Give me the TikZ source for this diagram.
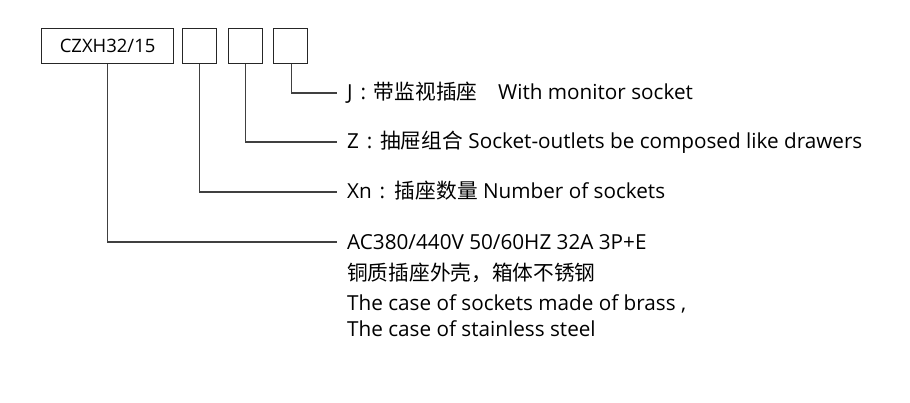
\documentclass[tikz,border=0pt]{standalone}
\usepackage{fontspec}
\setmainfont{Open Sans}
\newfontfamily\cjk{Noto Sans CJK SC}
\newcommand\colsep{\hspace{2.5pt}:\hspace{2.5pt} }
\begin{document}
\begin{tikzpicture}[x=1pt,y=-1pt,
  box/.style={draw=black!85,line width=1.2pt,inner sep=0pt,anchor=north west},
  lead/.style={draw=black!75,line width=1.2pt},
  lbl/.style={anchor=base west,inner sep=0pt,font=\fontsize{20.7}{24}\selectfont}]
\useasboundingbox[fill=white] (0,0) rectangle (910,403);
\node[box,minimum width=132pt,minimum height=35pt,font=\fontsize{18.5}{22}\selectfont] (b1) at (41,28) {CZXH32/15};
\node[box,minimum width=34pt,minimum height=35pt] (b2) at (182,28) {};
\node[box,minimum width=34pt,minimum height=35pt] (b3) at (228,28) {};
\node[box,minimum width=34pt,minimum height=35pt] (b4) at (273,28) {};
\coordinate (e1) at (337,242);
\coordinate (e2) at (337,192);
\coordinate (e3) at (337,142);
\coordinate (e4) at (337,93);
\draw[lead] (b1.south) |- (e1);
\draw[lead] (b2.south) |- (e2);
\draw[lead] (b3.south) |- (e3);
\draw[lead] ([xshift=1pt]b4.south) |- (e4);
\node[lbl] (t4) at (347,100) {J \colsep{\cjk 带监视插座}\quad With monitor socket};
\node[lbl] (t3) at (347,149) {Z \colsep{\cjk 抽屉组合} Socket-outlets be composed like drawers};
\node[lbl] (t2) at (347,199) {Xn \colsep{\cjk 插座数量} Number of sockets};
\node[lbl] (t1) at (347,250) {AC380/440V 50/60HZ 32A 3P+E};
\node[lbl] (t1b) at (347,280) {\cjk 铜质插座外壳，箱体不锈钢};
\node[lbl] (t1c) at (347,311) {The case of sockets made of brass ,};
\node[lbl] (t1d) at (347,336) {The case of stainless steel};
\end{tikzpicture}
\end{document}
